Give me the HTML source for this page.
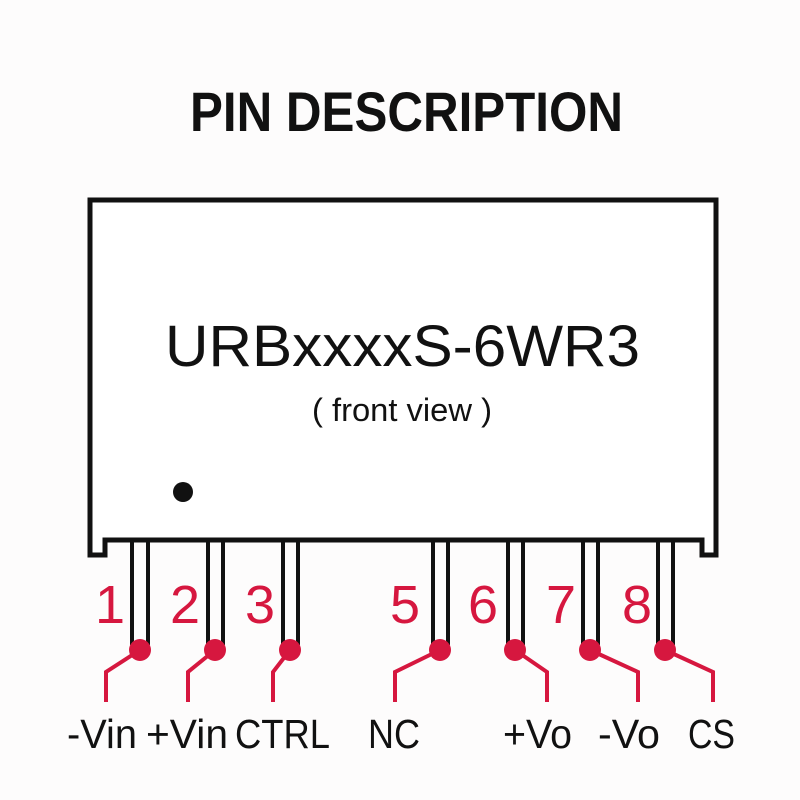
<!DOCTYPE html>
<html><head><style>body{margin:0;background:#fff}svg{display:block}</style></head>
<body>
<svg width="800" height="800" viewBox="0 0 800 800" xmlns="http://www.w3.org/2000/svg">
<rect width="800" height="800" fill="#fdfcfc"/>
<text x="190" y="131" font-family="Liberation Sans, sans-serif" font-weight="bold" font-size="56" textLength="433" lengthAdjust="spacingAndGlyphs" fill="#111">PIN DESCRIPTION</text>
<path d="M90 555 V200 H716 V555 H702 V540 H105 V555 Z" fill="#fff" stroke="#111" stroke-width="5"/>
<text x="165" y="366" font-family="Liberation Sans, sans-serif" font-size="58" textLength="475" lengthAdjust="spacingAndGlyphs" fill="#111">URBxxxxS-6WR3</text>
<text x="312" y="421" font-family="Liberation Sans, sans-serif" font-size="32" textLength="180" lengthAdjust="spacingAndGlyphs" fill="#111">( front view )</text>
<circle cx="183" cy="492" r="10" fill="#111"/>
<g stroke="#111" stroke-width="4" fill="#fff">
<path d="M132 541 V645 M148 541 V645"/>
<path d="M208 541 V645 M223 541 V645"/>
<path d="M283 541 V645 M298 541 V645"/>
<path d="M433 541 V645 M448 541 V645"/>
<path d="M508 541 V645 M523 541 V645"/>
<path d="M583 541 V645 M598 541 V645"/>
<path d="M658 541 V645 M673 541 V645"/>
</g>
<g stroke="#d6173f" stroke-width="4" fill="none">
<path d="M140 650 L106 672 V702"/>
<path d="M215 650 L188 672 V702"/>
<path d="M290 650 L273 672 V702"/>
<path d="M440 650 L395 672 V702"/>
<path d="M515 650 L547 672 V702"/>
<path d="M590 650 L638 672 V702"/>
<path d="M665 650 L713 672 V702"/>
</g>
<g fill="#d6173f">
<circle cx="140" cy="650" r="11"/><circle cx="215" cy="650" r="11"/><circle cx="290" cy="650" r="11"/>
<circle cx="440" cy="650" r="11"/><circle cx="515" cy="650" r="11"/><circle cx="590" cy="650" r="11"/><circle cx="665" cy="650" r="11"/>
</g>
<g font-family="Liberation Sans, sans-serif" font-size="54" fill="#d6173f" text-anchor="middle">
<text x="110" y="623">1</text><text x="185" y="623">2</text><text x="260" y="623">3</text>
<text x="405" y="623">5</text><text x="483" y="623">6</text><text x="561" y="623">7</text><text x="637" y="623">8</text>
</g>
<g font-family="Liberation Sans, sans-serif" font-size="41" fill="#111">
<text x="67" y="748" textLength="70" lengthAdjust="spacingAndGlyphs">-Vin</text>
<text x="146" y="748" textLength="82" lengthAdjust="spacingAndGlyphs">+Vin</text>
<text x="235" y="748" textLength="95" lengthAdjust="spacingAndGlyphs">CTRL</text>
<text x="368" y="748" textLength="52" lengthAdjust="spacingAndGlyphs">NC</text>
<text x="503" y="748" textLength="69" lengthAdjust="spacingAndGlyphs">+Vo</text>
<text x="598" y="748" textLength="62" lengthAdjust="spacingAndGlyphs">-Vo</text>
<text x="688" y="748" textLength="47" lengthAdjust="spacingAndGlyphs">CS</text>
</g>
</svg>
</body></html>
